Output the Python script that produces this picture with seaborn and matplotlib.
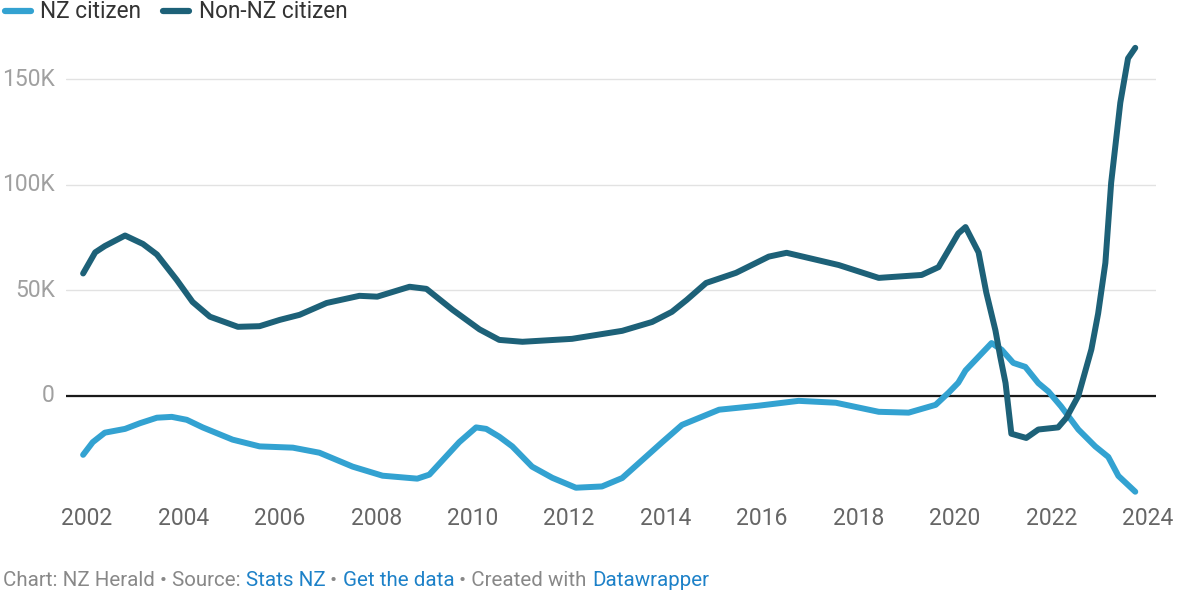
import numpy as np
import pandas as pd
import seaborn as sns
import matplotlib.pyplot as plt
from matplotlib.lines import Line2D

# Annual net migration (thousands)
nz_years = [2001.92, 2002.12, 2002.37, 2002.79, 2003.10, 2003.45, 2003.76, 2004.07,
            2004.40, 2005.02, 2005.58, 2006.27, 2006.82, 2007.51, 2008.13, 2008.85,
            2009.10, 2009.72, 2010.07, 2010.28, 2010.55, 2010.82, 2011.23, 2011.65,
            2012.14, 2012.68, 2013.10, 2013.93, 2014.34, 2015.11, 2015.93, 2016.76,
            2017.53, 2018.42, 2019.04, 2019.60, 2019.87, 2020.07, 2020.22, 2020.76,
            2020.97, 2021.21, 2021.46, 2021.73, 2021.94, 2022.20, 2022.56, 2022.91,
            2023.18, 2023.39, 2023.74]
nz_values = [-28, -22, -17.5, -15.7, -13, -10.4, -10, -11.4,
             -15, -20.8, -24, -24.6, -27, -33.6, -37.9, -39.3,
             -37.4, -22, -15, -15.7, -19.4, -24, -33.6, -38.9,
             -43.6, -43, -39, -22, -13.8, -6.6, -4.7, -2.4,
             -3.3, -7.6, -8, -4.3, 1.5, 6.2, 12, 25,
             21.8, 15.6, 13.7, 6, 2, -5, -16, -24,
             -29, -38, -45.5]

non_years = [2001.92, 2002.17, 2002.37, 2002.79, 2003.16, 2003.45, 2003.86, 2004.19,
             2004.55, 2005.13, 2005.58, 2006.00, 2006.41, 2006.97, 2007.65, 2008.02,
             2008.69, 2009.04, 2009.58, 2010.14, 2010.55, 2011.03, 2012.06, 2013.10,
             2013.72, 2014.13, 2014.44, 2014.84, 2015.46, 2016.14, 2016.51, 2017.59,
             2018.42, 2019.31, 2019.66, 2020.07, 2020.22, 2020.49, 2020.65, 2020.84,
             2020.94, 2021.05, 2021.17, 2021.48, 2021.73, 2022.14, 2022.31, 2022.56,
             2022.83, 2022.97, 2023.12, 2023.24, 2023.43, 2023.59, 2023.74]
non_values = [58, 68, 71, 76, 72, 67, 55, 44.5,
              37.5, 32.7, 33, 36, 38.4, 44, 47.4, 47,
              51.7, 50.7, 40.8, 31.5, 26.5, 25.6, 27, 30.8,
              35, 39.8, 45.5, 53.5, 58.3, 66, 67.8, 62,
              55.9, 57.3, 61, 77, 80, 68, 49, 31,
              18.5, 6, -18, -20, -16, -15, -10.5, 0,
              22, 39, 63, 101, 139, 160, 165]

series = ['NZ citizen', 'Non-NZ citizen']
colors = ['#33a2d1', '#1d6178']
x_ticks = list(range(2002, 2025, 2))
y_ticks = [0, 50, 100, 150]

df = pd.concat([
    pd.DataFrame({'year': nz_years, 'value': nz_values, 'group': series[0]}),
    pd.DataFrame({'year': non_years, 'value': non_values, 'group': series[1]}),
])

sns.set_style('white')
plt.rcParams['font.family'] = ['Roboto', 'DejaVu Sans']

fig = plt.figure(figsize=(11.82, 5.92), dpi=100)
ax = fig.add_axes([66 / 1182, 1 - 497 / 592, 1090 / 1182, 455.5 / 592])

sns.lineplot(data=df, x='year', y='value', hue='group', hue_order=series,
             palette=colors, estimator=None, sort=False, linewidth=4.3,
             solid_capstyle='round', solid_joinstyle='round', legend=False, ax=ax)

ax.set_xlim(2001.565, 2024.17)
ax.set_ylim(-48, 168)
ax.set_xticks(x_ticks)
ax.set_xticklabels([str(y) for y in x_ticks])
ax.set_yticks(y_ticks)
ax.set_yticklabels(['0' if v == 0 else f'{v}K' for v in y_ticks])
ax.set_xlabel('')
ax.set_ylabel('')
ax.tick_params(axis='x', length=0, pad=7, labelsize=16.5, labelcolor='#666666')
ax.tick_params(axis='y', length=0, pad=8, labelsize=16.5, labelcolor='#a0a0a0')
for t in ax.get_yticklabels():
    t.set_verticalalignment('center')
ax.grid(axis='y', color='#e2e2e2', linewidth=1)
ax.grid(axis='x', visible=False)
ax.axhline(0, color='#1a1a1a', linewidth=1.6, zorder=1.5)
sns.despine(ax=ax, left=True, bottom=True)

handles = [Line2D([], [], color=c, linewidth=4.5, solid_capstyle='round') for c in colors]
fig.legend(handles, series, loc='center left', bbox_to_anchor=(0.004, 1 - 12 / 592),
           ncol=2, frameon=False, fontsize=16.3, handlelength=1.15, handletextpad=0.4,
           columnspacing=1.0, borderpad=0, borderaxespad=0, labelcolor='#333333')

# footer with coloured links
parts = [('Chart: NZ Herald • Source: ', '#888888'), ('Stats NZ', '#1d81c8'),
         (' • ', '#888888'), ('Get the data', '#1d81c8'),
         (' • Created with ', '#888888'), ('Datawrapper', '#1d81c8')]
renderer = fig.canvas.get_renderer()
x = 3 / 1182
for txt, col in parts:
    t = fig.text(x, 1 - 580 / 592, txt, color=col, fontsize=14.8, va='center', ha='left')
    bb = t.get_window_extent(renderer=renderer)
    x += bb.width / fig.bbox.width

fig.savefig('out.png', dpi=100)
